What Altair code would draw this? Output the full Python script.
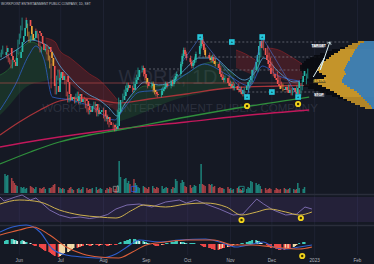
import altair as alt
import pandas as pd

START, END = "2022-05-18", "2023-02-13"

# ---------------- data ----------------
closes = [13.25, 13.40, 13.60, 13.20, 13.00, 12.90, 12.70, 13.10, 13.40, 13.90,
          14.20, 14.60, 15.00, 14.70, 14.30, 14.00, 14.10, 14.45, 14.35, 14.20,
          13.80, 13.50, 13.55, 13.65, 13.40, 13.10, 12.70, 11.70, 11.40, 12.10,
          12.40, 12.00, 12.20, 11.90, 11.30, 11.00, 11.15, 11.05, 10.95, 11.20,
          11.30, 10.90, 11.05, 10.95, 10.70, 10.50, 10.40, 10.70, 10.80, 10.50,
          10.30, 10.40, 10.50, 10.20, 10.05, 10.15, 9.90, 9.75, 9.65, 9.55,
          9.70, 10.40, 11.00, 11.20, 11.40, 11.60, 11.75, 11.60, 11.50, 11.80,
          12.00, 12.15, 12.50, 12.60, 12.30, 12.10, 11.90, 11.70, 11.80, 11.50,
          11.40, 11.30, 11.25, 11.45, 11.55, 11.65, 11.80, 11.70, 11.90, 11.80,
          12.00, 12.20, 12.30, 12.80, 13.20, 13.50, 13.30, 13.10, 12.90, 12.70,
          12.85, 13.00, 13.30, 13.70, 14.05, 13.80, 13.50, 13.25, 13.10, 13.00,
          13.15, 12.95, 12.80, 12.60, 12.30, 12.15, 12.00, 12.10, 11.85, 11.70,
          11.80, 11.60, 11.70, 11.50, 11.55, 11.40, 11.30, 11.50, 11.70, 11.90,
          12.00, 12.20, 12.50, 12.90, 13.25, 13.70, 13.95, 13.60, 13.25, 13.00,
          12.80, 12.60, 12.30, 12.10, 12.00, 11.80, 11.70, 11.55, 11.50, 11.65,
          11.50, 11.35, 11.50, 11.60, 11.40, 11.30, 11.60, 11.90, 12.20, 12.45]

volumes = [19, 17, 18, 15, 12, 10, 8, 7, 6,
           5, 6, 4, 5, 7, 6, 5, 4, 6, 5, 4, 5, 6, 4, 5, 5, 6,
           8, 9, 6, 5, 4,
           5, 4, 3, 5, 6, 4, 3, 4, 5, 3, 4, 6, 5, 3, 4, 4, 5, 6, 3, 4, 5, 4, 3, 5, 4, 6, 5, 4,
           6, 8, 32, 16, 14, 15, 10, 12, 9, 14, 10,
           8, 6, 5, 7, 6, 5, 4, 6, 7, 5, 4, 6, 5, 7, 4, 5, 6, 5, 4, 6, 5,
           14, 12, 10, 13, 11, 7, 6, 8, 5, 6, 8, 7, 9, 29, 9, 8, 7, 9, 8,
           9, 6, 7, 5, 6, 5,
           5, 4, 6, 4, 5, 3, 4, 5, 6, 4, 3, 5, 4, 6, 5,
           12, 11, 10, 8, 9, 7,
           4, 5, 3, 4, 5, 4, 3, 5, 4, 3, 4, 5, 4, 3, 4, 5, 4, 3, 4,
           10, 5, 4, 6]

macd_hist = [3, 4, 4, 5, 5, 4, 4, 3, 3, 4, 3, 2, 2,
             1, 0, -1, -2, -2, -3,
             -4, -5, -6, -7, -8, -9, -10, -11, -12, -13, -12, -11,
             -10, -9, -8, -7, -6, -5, -4, -4, -3, -3,
             -2, -2, -1, -1, -2, -2, -1, -1, -1, -2, -1, -1, -1, -2, -2, -1, -1, -1,
             -1, 0, 1,
             2, 3, 3, 4, 4, 5, 5, 5, 4, 4, 3, 3, 2, 2, 1, 1,
             0, -1, -2, -2, -2, -1, -1,
             0, 1, 1, 2, 2, 2, 3, 3, 2, 2, 2, 1, 1, 1, 1,
             1, 1, 0, 0,
             -1, -2, -3, -3, -4, -4, -5, -5, -6, -6, -5, -5, -4, -4, -3, -3,
             -2, -2, -1, -1, 0, 0, 1, 1, 2, 2,
             3, 3, 4, 4, 3, 3, 2, 1, 0,
             -1, -2, -3, -4, -4, -5, -5, -6, -6, -6, -5, -5, -4, -4, -3, -2,
             -1, 0, 1, 2, 2]

amber_bars = [14, 15, 25, 26, 76, 79, 80, 107, 109, 112, 147]

ma200_dates = ["2022-05-18", "2022-06-16", "2022-07-15", "2022-08-12", "2022-09-30", "2022-11-15", "2022-12-28"]
ma200_vals = [8.65, 9.0, 9.3, 9.55, 9.9, 10.25, 10.5]

ma100_dates = ["2022-05-18", "2022-06-09", "2022-06-30", "2022-07-22", "2022-08-12", "2022-09-30", "2022-11-15", "2022-12-28"]
ma100_vals = [7.8, 8.4, 8.9, 9.25, 9.5, 10.15, 10.7, 11.15]

ma50_dates = ["2022-05-18", "2022-06-01", "2022-06-16", "2022-06-30", "2022-07-15", "2022-07-29",
              "2022-08-12", "2022-09-03", "2022-09-30", "2022-10-31", "2022-12-06", "2022-12-28"]
ma50_vals = [9.25, 9.9, 10.5, 10.95, 11.1, 11.0, 10.85, 11.05, 11.3, 11.6, 11.7, 11.75]

fast_dates = ["2022-05-18", "2022-06-01", "2022-06-09", "2022-06-16", "2022-06-23", "2022-06-30", "2022-07-08",
              "2022-07-15", "2022-07-22", "2022-07-29", "2022-08-05", "2022-08-11", "2022-08-16", "2022-08-23",
              "2022-08-31", "2022-09-10", "2022-09-21", "2022-09-30", "2022-10-09", "2022-10-20", "2022-10-31",
              "2022-11-11", "2022-11-19", "2022-11-25", "2022-12-06", "2022-12-17", "2022-12-28"]
fast_vals = [13.0, 13.6, 14.0, 13.9, 13.6, 12.75, 12.1, 11.6, 11.25, 11.0, 10.6, 10.2, 10.75, 11.4,
             11.9, 11.75, 12.0, 12.6, 13.1, 13.1, 12.5, 12.0, 12.4, 13.1, 12.4, 11.9, 12.1]

slow_dates = ["2022-05-18", "2022-05-29", "2022-06-08", "2022-06-13", "2022-06-19", "2022-06-25", "2022-07-08",
              "2022-07-22", "2022-08-09", "2022-08-16", "2022-08-27", "2022-09-10", "2022-09-30", "2022-10-13",
              "2022-10-31", "2022-11-15", "2022-11-24", "2022-12-06", "2022-12-28"]
slow_vals = [10.5, 11.75, 13.25, 13.7, 13.0, 11.15, 11.0, 10.7, 10.0, 10.6, 11.4, 11.5, 12.3, 12.8,
             12.2, 11.7, 12.7, 12.2, 11.9]

# clouds: (dates, top, bottom)
green1 = (["2022-05-18", "2022-05-25", "2022-05-31", "2022-06-05", "2022-06-10", "2022-06-16", "2022-06-22", "2022-06-25"],
          [12.25, 12.6, 13.25, 13.75, 13.9, 13.7, 13.25, 12.9],
          [10.25, 10.75, 11.25, 11.6, 11.8, 11.9, 12.0, 12.1])
red1 = (["2022-06-20", "2022-06-27", "2022-06-30", "2022-07-08", "2022-07-15", "2022-07-22", "2022-07-29", "2022-08-05", "2022-08-11"],
        [14.1, 13.9, 13.5, 13.1, 12.7, 12.3, 12.0, 11.5, 11.0],
        [13.0, 12.6, 12.3, 11.8, 11.4, 11.1, 10.9, 10.7, 10.4])
green2 = (["2022-08-11", "2022-08-20", "2022-08-31", "2022-09-10", "2022-09-21", "2022-10-02", "2022-10-09", "2022-10-20", "2022-11-04"],
          [10.4, 11.1, 11.7, 11.7, 12.0, 12.4, 12.7, 12.9, 12.2],
          [9.9, 10.1, 10.4, 10.7, 11.0, 11.2, 11.3, 11.5, 11.6])
red2 = (["2022-11-05", "2022-11-12", "2022-11-19"], [13.5, 13.3, 13.0], [12.6, 12.4, 12.2])
red3 = (["2022-11-28", "2022-12-06", "2022-12-14", "2022-12-23"], [13.6, 13.5, 13.2, 12.8], [12.5, 12.1, 11.9, 11.7])

level_prices = [13.9, 13.15, 12.5, 11.4, 12.55]
level_starts = ["2022-09-30", "2022-09-30", "2022-10-24", "2022-11-11", "2022-09-03"]
level_ends = ["2023-01-26", "2023-01-05", "2022-12-30", "2023-01-12", "2022-09-25"]
red_level = 11.85

profile_prices = [13.9, 13.8, 13.7, 13.6, 13.5, 13.4, 13.3, 13.2, 13.1, 13.0, 12.9, 12.8, 12.7, 12.6, 12.5, 12.4, 12.3,
                  12.2, 12.1, 12.0, 11.9, 11.8, 11.7, 11.6, 11.5, 11.4, 11.3, 11.2, 11.1, 11.0, 10.9, 10.8, 10.7, 10.6]
profile_shadow = [16, 22, 28, 34, 42, 48, 54, 60, 64, 68, 70, 72, 74, 74, 74, 72, 70,
                  70, 72, 74, 74, 72, 70, 66, 60, 54, 48, 42, 36, 30, 24, 19, 14, 9]
profile_total = [16, 22, 26, 29, 34, 36, 40, 43, 45, 48, 51, 53, 54, 56, 57, 55, 52,
                 48, 50, 56, 58, 56, 52, 48, 44, 40, 37, 34, 31, 27, 23, 19, 14, 9]
profile_blue = [10, 14, 16, 17, 19, 20, 21, 22, 24, 24, 26, 27, 28, 29, 30, 29, 28,
                30, 31, 32, 32, 30, 27, 24, 20, 17, 15, 13, 11, 9, 7, 5, 3, 2]

zig_dates = ["2022-09-27", "2022-10-10", "2022-11-13", "2022-11-24", "2022-12-20"]
zig_vals = [12.9, 14.15, 11.15, 14.15, 11.15]

box_dates = ["2022-10-10", "2022-11-02", "2022-11-24", "2022-11-13", "2022-12-01", "2022-12-20"]
box_vals = [14.15, 13.9, 14.15, 11.15, 11.4, 11.15]

sig_price_dates = ["2022-11-13", "2022-12-20"]
sig_price_vals = [10.7, 10.8]
sig_rsi_dates = ["2022-11-09", "2022-12-22"]
sig_rsi_vals = [33.2, 36.4]
sig_macd_dates = ["2022-12-23"]
sig_macd_vals = [-0.12]

vbox_dates = ["2022-08-10", "2022-08-23", "2022-11-09"]
vbox_vals = [4, 4, 4]
vbox_cols = ["#9e9e9e", "#2962ff", "#26a69a"]

arrow_dates = ["2022-12-31", "2023-01-08", "2023-01-05", "2023-01-12"]
arrow_vals = [12.15, 13.1, 12.5, 13.9]

tag_names = ["TARGET", "ENTRY", "STOP"]
tag_start = ["2022-12-30", "2022-12-31", "2023-01-01"]
tag_end = ["2023-01-08", "2023-01-09", "2023-01-08"]
tag_top = [13.8, 12.02, 11.32]
tag_bot = [13.6, 11.85, 11.15]
tag_mid = ["2023-01-04", "2023-01-05", "2023-01-04"]
tag_bg = ["#5a5e6a", "#6b5a24", "#5a5e6a"]
tag_fg = ["#ffffff", "#f5c542", "#ffffff"]

rsi_dates = ["2022-05-18", "2022-05-21", "2022-05-25", "2022-05-29", "2022-06-03", "2022-06-09", "2022-06-13",
             "2022-06-18", "2022-06-23", "2022-06-30", "2022-07-08", "2022-07-15", "2022-07-22", "2022-07-29",
             "2022-08-04", "2022-08-10", "2022-08-18", "2022-08-27", "2022-09-05", "2022-09-15", "2022-09-25",
             "2022-09-30", "2022-10-07", "2022-10-14", "2022-10-24", "2022-11-03", "2022-11-10", "2022-11-20",
             "2022-11-25", "2022-12-02", "2022-12-11", "2022-12-19", "2022-12-25", "2022-12-30"]
rsi_vals = [70.0, 63.6, 66.8, 70.0, 73.2, 65.2, 68.4, 58.8, 49.2, 41.2, 36.5, 38.0, 35.5, 38.0,
            42.0, 50.8, 57.2, 58.8, 54.0, 62.0, 65.2, 60.4, 65.2, 58.8, 50.8, 41.2, 42.8, 66.8,
            58.8, 49.2, 41.2, 42.8, 54.0, 50.8]
rsima_dates = ["2022-05-18", "2022-06-01", "2022-06-16", "2022-06-30", "2022-07-15", "2022-07-29", "2022-08-10",
               "2022-08-22", "2022-08-30", "2022-09-15", "2022-09-30", "2022-10-14", "2022-10-29", "2022-11-09",
               "2022-11-20", "2022-11-29", "2022-12-11", "2022-12-21", "2022-12-30"]
rsima_vals = [58.8, 65.2, 62.0, 49.2, 41.2, 38.0, 36.4, 49.2, 57.2, 54.0, 58.8, 60.4, 54.0, 41.2,
              46.0, 50.8, 46.0, 41.2, 46.0]

macd_dates = ["2022-05-18", "2022-05-27", "2022-06-06", "2022-06-16", "2022-06-25", "2022-07-05", "2022-07-17",
              "2022-07-29", "2022-08-10", "2022-08-18", "2022-08-27", "2022-09-10", "2022-09-25", "2022-10-14",
              "2022-10-24", "2022-11-05", "2022-11-17", "2022-11-25", "2022-12-02", "2022-12-11", "2022-12-21",
              "2022-12-30"]
macd_vals = [0.12, 0.17, 0.19, 0.12, -0.05, -0.11, -0.13, -0.14, -0.10, -0.03, 0.04, 0.02, 0.04, 0.05,
             0.02, -0.03, 0.0, 0.02, -0.03, -0.05, -0.03, -0.01]
sig_dates = ["2022-05-18", "2022-06-01", "2022-06-11", "2022-06-23", "2022-07-05", "2022-07-17", "2022-07-29",
             "2022-08-12", "2022-08-22", "2022-09-01", "2022-09-15", "2022-09-30", "2022-10-20", "2022-11-03",
             "2022-11-17", "2022-12-02", "2022-12-21", "2022-12-30"]
sig_vals = [0.09, 0.14, 0.17, 0.09, -0.03, -0.10, -0.13, -0.14, -0.08, -0.01, 0.02, 0.04, 0.04, -0.01,
            -0.01, -0.03, -0.05, -0.03]

month_dates = ["2022-06-01", "2022-07-01", "2022-08-01", "2022-09-01", "2022-10-01", "2022-11-01",
               "2022-12-01", "2023-01-01", "2023-02-01"]
month_labels = ["Jun", "Jul", "Aug", "Sep", "Oct", "Nov", "Dec", "2023", "Feb"]

title_text = "WORKPOINT ENTERTAINMENT PUBLIC COMPANY, 1D, SET"

# ---------------- scales ----------------
XS = alt.Scale(type="time", domain=[START, END], nice=False)
PRICE = alt.Scale(domain=[6.75, 16.0], range=[185, 0], nice=False, zero=False)
VOL = alt.Scale(domain=[0, 43], range=[193, 150], nice=False, zero=False)
RSI = alt.Scale(domain=[30, 70], range=[222, 197], nice=False, zero=False)
MACD = alt.Scale(domain=[-0.15, 0.15], range=[259, 229], nice=False, zero=False)
HIST = alt.Scale(domain=[-15, 15], range=[259, 229], nice=False, zero=False)
PROF = alt.Scale(domain=[0, 74], range=[374, 300], nice=False, zero=False)

BG = "#151924"
UP, DOWN, AMBER = "#27b8a8", "#ef5350", "#f0a838"

# ---------------- tables ----------------
dates = [d.strftime("%Y-%m-%d") for d in pd.bdate_range(START, periods=len(closes))]
opens = [closes[0]] + closes[:-1]
rows = []
for i, (d, o, c) in enumerate(zip(dates, opens, closes)):
    up = c >= o
    col = AMBER if i in amber_bars else (UP if up else DOWN)
    h = macd_hist[i] if i < len(macd_hist) else 0
    hp = macd_hist[i - 1] if 0 < i < len(macd_hist) + 1 else 0
    if h >= 0:
        hcol = "#3cc8b8" if h >= hp else "#d8ece6"
    else:
        hcol = "#f04848" if h <= hp else "#f2dca8"
    rows.append(dict(d=d, o=o, c=c, hi=max(o, c) + 0.12, lo=min(o, c) - 0.12, col=col,
                     v=volumes[i] if i < len(volumes) else 0,
                     vcol="#1f9488" if up else "#c0464a", h=h, z=0, hcol=hcol))
cd = pd.DataFrame(rows)


def X(f="d"):
    return alt.X(f + ":T", scale=XS, axis=None)


def line_layer(dts, vals, scale, color, width=1.0, opacity=1.0, interp="monotone"):
    df = pd.DataFrame({"d": dts, "v": vals})
    return alt.Chart(df).mark_line(color=color, strokeWidth=width, opacity=opacity,
                                   interpolate=interp).encode(
        x=X(), y=alt.Y("v:Q", scale=scale, axis=None))


def band_layer(band, color, opacity):
    df = pd.DataFrame({"d": band[0], "t": band[1], "b": band[2]})
    area = alt.Chart(df).mark_area(color=color, opacity=opacity, interpolate="monotone").encode(
        x=X(), y=alt.Y("t:Q", scale=PRICE, axis=None), y2="b:Q")
    edge = alt.Chart(df).mark_line(color=color, opacity=0.6, strokeWidth=0.8, interpolate="monotone").encode(
        x=X(), y=alt.Y("t:Q", scale=PRICE, axis=None))
    return [area, edge]


layers = []

# month grid
mdf = pd.DataFrame({"d": month_dates, "t": month_labels})
layers.append(alt.Chart(mdf).mark_rule(color="#1e2232", strokeWidth=1).encode(
    x=X(), y=alt.value(0), y2=alt.value(255)))

# RSI background band
layers.append(alt.Chart(pd.DataFrame({"a": [70], "b": [30]})).mark_rect(color="#7e57c2", opacity=0.14).encode(
    y=alt.Y("a:Q", scale=RSI, axis=None), y2="b:Q", x=alt.value(0), x2=alt.value(374)))

# pane separators
for yy in (194.5, 225.5):
    layers.append(alt.Chart(pd.DataFrame({"a": [0]})).mark_rule(color="#2a2e3b", strokeWidth=1.5).encode(
        y=alt.value(yy), x=alt.value(0), x2=alt.value(374)))

# watermark
layers.append(alt.Chart(pd.DataFrame({"t": ["WORK, 1D"]})).mark_text(
    fontSize=20, color="#3a3f4e", opacity=0.55, font="Liberation Sans", align="center").encode(
    text="t:N", x=alt.value(168), y=alt.value(78)))
layers.append(alt.Chart(pd.DataFrame({"t": ["WORKPOINT ENTERTAINMENT PUBLIC COMPANY"]})).mark_text(
    fontSize=11.5, color="#3a3f4e", opacity=0.6, font="Liberation Sans", align="center").encode(
    text="t:N", x=alt.value(180), y=alt.value(109)))

# clouds
layers += band_layer(green1, "#2e8b3a", 0.22)
layers += band_layer(red1, "#b3262a", 0.28)
layers += band_layer(green2, "#2e8b3a", 0.2)
layers += band_layer(red2, "#b3262a", 0.28)
layers += band_layer(red3, "#b3262a", 0.28)

# moving averages
layers.append(line_layer(ma200_dates, ma200_vals, PRICE, "#c2185b", 1.3))
layers.append(line_layer(ma100_dates, ma100_vals, PRICE, "#2f8f3c", 1.3))
layers.append(line_layer(ma50_dates, ma50_vals, PRICE, "#a8343a", 1.3))
layers.append(line_layer(slow_dates, slow_vals, PRICE, "#3060c8", 1.0, 0.8))
layers.append(line_layer(fast_dates, fast_vals, PRICE, "#5aa8dc", 1.0, 0.8))

# red horizontal level
layers.append(alt.Chart(pd.DataFrame({"p": [red_level]})).mark_rule(color="#d05050", opacity=0.55, strokeWidth=1).encode(
    y=alt.Y("p:Q", scale=PRICE, axis=None), x=alt.value(0), x2=alt.value(374)))

# dotted levels
ldf = pd.DataFrame({"p": level_prices, "d": level_starts, "d2": level_ends})
layers.append(alt.Chart(ldf).mark_rule(color="#a7abb5", opacity=0.6, strokeWidth=0.8, strokeDash=[2, 2]).encode(
    y=alt.Y("p:Q", scale=PRICE, axis=None), x=X(), x2="d2:T"))

# volume profile
pdf = pd.DataFrame({"p": profile_prices, "sh": profile_shadow, "tot": profile_total, "blue": profile_blue})
pdf["p1"] = pdf["p"] + 0.045
pdf["p2"] = pdf["p"] - 0.045
for field, colr, op in (("sh", "#07090e", 0.85), ("tot", "#cf9c2c", 0.95), ("blue", "#2a7ac6", 0.95)):
    layers.append(alt.Chart(pdf).mark_rect(color=colr, opacity=op).encode(
        x=alt.X(field + ":Q", scale=PROF, axis=None), x2=alt.value(374),
        y=alt.Y("p1:Q", scale=PRICE, axis=None), y2="p2:Q"))

# candles
layers.append(alt.Chart(cd).mark_rule(strokeWidth=0.7).encode(
    x=X(), y=alt.Y("hi:Q", scale=PRICE, axis=None), y2="lo:Q", color=alt.Color("col:N", scale=None)))
layers.append(alt.Chart(cd).mark_bar(size=1.7).encode(
    x=X(), y=alt.Y("o:Q", scale=PRICE, axis=None), y2="c:Q", color=alt.Color("col:N", scale=None)))

# volume
layers.append(alt.Chart(cd).mark_bar(size=1.5, opacity=0.85).encode(
    x=X(), y=alt.Y("v:Q", scale=VOL, axis=None), color=alt.Color("vcol:N", scale=None)))
vb = pd.DataFrame({"d": vbox_dates, "v": vbox_vals, "c": vbox_cols})
layers.append(alt.Chart(vb).mark_square(size=28, filled=False, strokeWidth=1).encode(
    x=X(), y=alt.Y("v:Q", scale=VOL, axis=None), stroke=alt.Color("c:N", scale=None)))

# pattern zigzag
layers.append(line_layer(zig_dates, zig_vals, PRICE, "#4a78e0", 0.8, 0.7, "linear"))

# pattern boxes
bdf = pd.DataFrame({"d": box_dates, "v": box_vals})
layers.append(alt.Chart(bdf).mark_square(size=32, color="#26c6da", opacity=1).encode(
    x=X(), y=alt.Y("v:Q", scale=PRICE, axis=None)))
layers.append(alt.Chart(bdf).mark_point(size=5, shape="triangle-up", filled=True, color="#0f3840").encode(
    x=X(), y=alt.Y("v:Q", scale=PRICE, axis=None)))


# yellow signal circles
def sig_layers(dts, vals, scale):
    df = pd.DataFrame({"d": dts, "v": vals})
    return [alt.Chart(df).mark_circle(size=38, color="#f2d41c", opacity=1).encode(
                x=X(), y=alt.Y("v:Q", scale=scale, axis=None)),
            alt.Chart(df).mark_circle(size=6, color="#3a3200", opacity=1).encode(
                x=X(), y=alt.Y("v:Q", scale=scale, axis=None))]


layers += sig_layers(sig_price_dates, sig_price_vals, PRICE)
layers += sig_layers(sig_rsi_dates, sig_rsi_vals, RSI)
layers += sig_layers(sig_macd_dates, sig_macd_vals, MACD)

# projection arrow
adf = pd.DataFrame({"d": arrow_dates, "v": arrow_vals, "i": list(range(len(arrow_dates)))})
layers.append(alt.Chart(adf).mark_line(color="#d8eef2", strokeWidth=1).encode(
    x=X(), y=alt.Y("v:Q", scale=PRICE, axis=None), order="i:Q"))
layers.append(alt.Chart(adf.tail(1)).mark_point(shape="M-1,1L0,0L1,1", size=22, filled=False,
                                                color="#d8eef2", strokeWidth=1, angle=20).encode(
    x=X(), y=alt.Y("v:Q", scale=PRICE, axis=None)))

# tags
tdf = pd.DataFrame({"t": tag_names, "d": tag_start, "d2": tag_end, "a": tag_top, "b": tag_bot,
                    "m": tag_mid, "bg": tag_bg, "fg": tag_fg})
tdf["mid"] = (tdf["a"] + tdf["b"]) / 2
layers.append(alt.Chart(tdf).mark_rect().encode(
    x=X(), x2="d2:T", y=alt.Y("a:Q", scale=PRICE, axis=None), y2="b:Q", color=alt.Color("bg:N", scale=None)))
layers.append(alt.Chart(tdf).mark_text(fontSize=3.6, fontWeight="bold", baseline="middle").encode(
    x=X("m"), y=alt.Y("mid:Q", scale=PRICE, axis=None), text="t:N", color=alt.Color("fg:N", scale=None)))

# RSI
layers.append(line_layer(rsi_dates, rsi_vals, RSI, "#9a86d8", 0.8, 0.9, "linear"))
layers.append(line_layer(rsima_dates, rsima_vals, RSI, "#cdb04e", 1.0))

# MACD
layers.append(alt.Chart(cd).mark_bar(size=2).encode(
    x=X(), y=alt.Y("h:Q", scale=HIST, axis=None), y2="z:Q", color=alt.Color("hcol:N", scale=None)))
layers.append(line_layer(macd_dates, macd_vals, MACD, "#2f5fd0", 1.1))
layers.append(line_layer(sig_dates, sig_vals, MACD, "#e0603a", 1.1))

# month labels
layers.append(alt.Chart(mdf).mark_text(fontSize=4.6, color="#b2b5be", baseline="middle").encode(
    x=X(), y=alt.value(260.5), text="t:N"))

# title
layers.append(alt.Chart(pd.DataFrame({"t": [title_text]})).mark_text(
    fontSize=3.2, color="#c3c6ce", align="left", baseline="middle").encode(
    text="t:N", x=alt.value(1), y=alt.value(3.5)))

chart = alt.layer(*layers).resolve_scale(x="independent", y="independent", color="independent").properties(
    width=374, height=264, background=BG, padding=0, autosize=alt.AutoSizeParams(type="none")
).configure_view(stroke=None)

chart.save("out.html", embed_options={"renderer": "svg", "actions": False})
